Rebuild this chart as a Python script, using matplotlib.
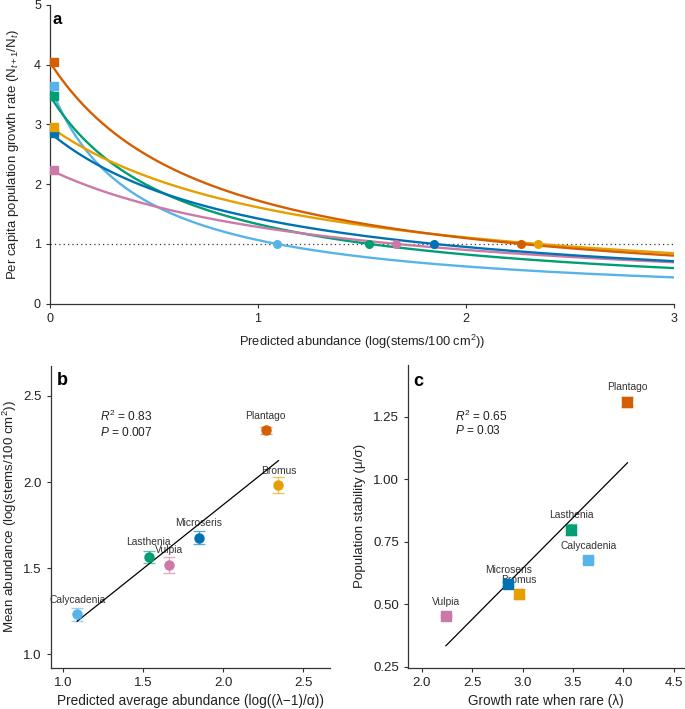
import numpy as np
import matplotlib
matplotlib.use("Agg")
import matplotlib.pyplot as plt

plt.rcParams['font.family'] = ['Liberation Sans', 'DejaVu Sans']
plt.rcParams['mathtext.fontset'] = 'custom'
plt.rcParams['mathtext.rm'] = 'Liberation Sans'
plt.rcParams['mathtext.it'] = 'Liberation Sans:italic'

# species data
species = ['Plantago', 'Bromus', 'Microseris', 'Lasthenia', 'Vulpia', 'Calycadenia']
colors = ['#D55E00', '#E69F00', '#0072B2', '#009E73', '#CC79A7', '#56B4E9']

# growth rate when rare (lambda)
lam = [4.04, 2.96, 2.86, 3.48, 2.24, 3.65]
# predicted average abundance, log((lambda-1)/alpha)
pred_abund = [2.265, 2.345, 1.847, 1.535, 1.665, 1.09]
# mean observed abundance and error limits
mean_abund = [2.30, 1.98, 1.677, 1.567, 1.52, 1.232]
abund_lo = [2.277, 1.935, 1.639, 1.532, 1.472, 1.195]
abund_hi = [2.320, 2.028, 1.718, 1.602, 1.563, 1.267]
# population stability and error limits
stab = [1.31, 0.539, 0.581, 0.798, 0.452, 0.676]
stab_lo = [1.29, 0.52, 0.572, 0.775, 0.447, 0.666]
stab_hi = [1.33, 0.56, 0.590, 0.820, 0.457, 0.686]

txt_col = '#222222'
fig = plt.figure(figsize=(6.85, 7.09), dpi=100)


def style(ax):
    for s in ['top', 'right']:
        ax.spines[s].set_visible(False)
    for s in ['left', 'bottom']:
        ax.spines[s].set_color('#333333')
        ax.spines[s].set_linewidth(0.9)
    ax.tick_params(direction='out', length=3, width=0.8, colors='#333333',
                   labelcolor=txt_col)


# ---- panel a ----
axa = fig.add_axes([0.073, 0.5717, 0.911, 0.4213])
style(axa)
xs = np.linspace(0, 3, 300)
draw_order = [5, 3, 4, 2, 1, 0]
axa.plot([0, 3], [1, 1], ls=(0, (1, 2.5)), color='#333333', lw=0.9, zorder=1)
for i in draw_order:
    alpha = (lam[i] - 1) / pred_abund[i]
    axa.plot(xs, lam[i] / (1 + alpha * xs), color=colors[i], lw=1.7, zorder=2)
for i in draw_order:
    axa.plot(0.02, lam[i], 's', color=colors[i], ms=5.8, zorder=3, clip_on=False)
    axa.plot(pred_abund[i], 1, 'o', color=colors[i], ms=5.5, zorder=3)
axa.set_xlim(0, 3)
axa.set_ylim(0, 5)
axa.set_xticks([0, 1, 2, 3])
axa.set_yticks([0, 1, 2, 3, 4, 5])
axa.tick_params(labelsize=9)
axa.set_xlabel('Predicted abundance (log(stems/100 cm$^2$))', fontsize=9.3, color=txt_col, labelpad=6)
axa.set_ylabel('Per capita population growth rate (N$_{t+1}$/N$_t$)', fontsize=9.5, color=txt_col, labelpad=9)
fig.text(0.077, 0.972, 'a', fontsize=12, fontweight='bold', va='center')

# ---- panel b ----
axb = fig.add_axes([0.074, 0.0583, 0.4077, 0.4255])
style(axb)
fit_b = np.polyfit(pred_abund, mean_abund, 1)
xb = np.array([min(pred_abund), max(pred_abund)])
axb.plot(xb, np.polyval(fit_b, xb), color='black', lw=0.9, zorder=3)
for i in range(len(species)):
    axb.errorbar(pred_abund[i], mean_abund[i],
                 yerr=[[mean_abund[i] - abund_lo[i]], [abund_hi[i] - mean_abund[i]]],
                 fmt='none', ecolor=colors[i], alpha=0.6, elinewidth=1, capsize=4.5, zorder=2)
    axb.plot(pred_abund[i], mean_abund[i], 'o', color=colors[i], ms=6.5, zorder=4)
    axb.text(pred_abund[i], mean_abund[i] + 0.085, species[i], fontsize=7.4,
             color='#333333', ha='center', va='center', zorder=1)
axb.text(1.23, 2.384, '$R^2$ = 0.83', fontsize=8.6, color=txt_col, va='center')
axb.text(1.23, 2.29, '$P$ = 0.007', fontsize=8.6, color=txt_col, va='center')
axb.set_xlim(0.925, 2.666)
axb.set_ylim(0.922, 2.674)
axb.set_xticks([1.0, 1.5, 2.0, 2.5])
axb.set_yticks([1.0, 1.5, 2.0, 2.5])
axb.set_xticklabels(['1.0', '1.5', '2.0', '2.5'])
axb.set_yticklabels(['1.0', '1.5', '2.0', '2.5'])
axb.tick_params(labelsize=9.5)
axb.set_xlabel('Predicted average abundance (log((\u03bb\u22121)/\u03b1))', fontsize=9.8, color=txt_col, labelpad=4)
axb.set_ylabel('Mean abundance (log(stems/100 cm$^2$))', fontsize=9.6, color=txt_col, labelpad=3)
fig.text(0.083, 0.463, 'b', fontsize=13, fontweight='bold', va='center')

# ---- panel c ----
axc = fig.add_axes([0.596, 0.0585, 0.4025, 0.4267])
style(axc)
fit_c = np.polyfit(lam, stab, 1)
xc = np.array([min(lam), max(lam)])
axc.plot(xc, np.polyval(fit_c, xc), color='black', lw=0.9, zorder=3)
for i in range(len(species)):
    axc.errorbar(lam[i], stab[i],
                 yerr=[[stab[i] - stab_lo[i]], [stab_hi[i] - stab[i]]],
                 fmt='none', ecolor=colors[i], alpha=0.6, elinewidth=1, capsize=4, zorder=2)
    axc.plot(lam[i], stab[i], 's', color=colors[i], ms=6.5, zorder=4)
    axc.text(lam[i], stab[i] + 0.057, species[i], fontsize=7.4,
             color='#333333', ha='center', va='center', zorder=1)
axc.text(2.33, 1.25, '$R^2$ = 0.65', fontsize=8.6, color=txt_col, va='center')
axc.text(2.33, 1.194, '$P$ = 0.03', fontsize=8.6, color=txt_col, va='center')
axc.set_xlim(1.867, 4.6)
axc.set_ylim(0.247, 1.456)
axc.set_xticks([2.0, 2.5, 3.0, 3.5, 4.0, 4.5])
axc.set_xticklabels(['2.0', '2.5', '3.0', '3.5', '4.0', '4.5'])
axc.set_yticks([0.25, 0.5, 0.75, 1.0, 1.25])
axc.set_yticklabels(['0.25', '0.50', '0.75', '1.00', '1.25'])
axc.tick_params(labelsize=9.5)
axc.set_xlabel('Growth rate when rare (\u03bb)', fontsize=9.8, color=txt_col, labelpad=4)
axc.set_ylabel('Population stability (\u03bc/\u03c3)', fontsize=9.6, color=txt_col, labelpad=5)
fig.text(0.604, 0.462, 'c', fontsize=13, fontweight='bold', va='center')

fig.savefig('out.png', dpi=100)
